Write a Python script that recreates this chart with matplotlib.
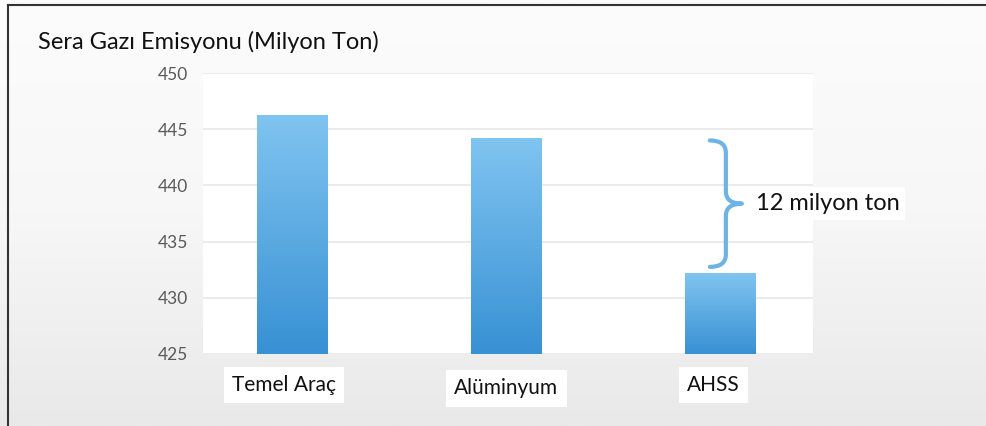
import numpy as np
import matplotlib.pyplot as plt
from matplotlib.path import Path
from matplotlib.patches import PathPatch
from matplotlib.lines import Line2D
from matplotlib.colors import LinearSegmentedColormap
import matplotlib.transforms as mtransforms

categories = ['Temel Araç', 'Alüminyum', 'AHSS']
emissions = [446.3, 444.2, 432.2]
y_ticks = [425, 430, 435, 440, 445, 450]
title = 'Sera Gazı Emisyonu (Milyon Ton)'
gap_label = '12 milyon ton'

plt.rcParams['font.family'] = ['Lato', 'DejaVu Sans']

W, H = 987, 426
fig = plt.figure(figsize=(W / 100, H / 100), dpi=100)

# arka plan (açık gri degrade)
bg = fig.add_axes([0, 0, 1, 1], zorder=-10)
bg_cmap = LinearSegmentedColormap.from_list('bg', ['#fcfcfc', '#f7f7f7', '#e9e9e9'])
bg.imshow(np.linspace(0, 1, 200).reshape(-1, 1), aspect='auto', cmap=bg_cmap,
          extent=[0, 1, 0, 1], origin='upper')
bg.set_xlim(0, 1)
bg.set_ylim(0, 1)
bg.axis('off')

ax = fig.add_axes([203 / W, 1 - 354 / H, (813 - 203) / W, (354 - 73) / H])
ax.set_facecolor('white')

x = np.arange(len(categories))
width = 0.33
bar_cmap = LinearSegmentedColormap.from_list('bar', ['#3891d4', '#80c4f0'])
bars = ax.bar(x, emissions, width=width, color='none', edgecolor='none', zorder=3)
grad = np.linspace(1, 0, 100).reshape(-1, 1)
for xi, val, b in zip(x, emissions, bars):
    im = ax.imshow(grad, aspect='auto', cmap=bar_cmap, origin='upper',
                   extent=[xi - width / 2, xi + width / 2, y_ticks[0], val], zorder=3)
    im.set_clip_path(b)
ax.set_xlim(-0.42, 2.436)
ax.set_ylim(y_ticks[0], y_ticks[-1])

ax.set_yticks(y_ticks)
ax.set_xticks([])
ax.tick_params(axis='y', length=0, pad=11, labelcolor='#595959', labelsize=12.5)
for s in ax.spines.values():
    s.set_visible(False)
ax.grid(axis='y', color='#e8e8e8', lw=1.2, zorder=0)
ax.set_axisbelow(True)

# kategori etiketleri
trans = mtransforms.blended_transform_factory(ax.transData, ax.transAxes)
label_x = [-0.04, 0.0, -0.03]
label_y = [-0.11, -0.122, -0.11]
for xi, dx, yy, lab in zip(x, label_x, label_y, categories):
    ax.text(xi + dx, yy, lab, transform=trans, ha='center', va='center',
            fontsize=15, color='#111111',
            bbox=dict(facecolor='white', edgecolor='none', pad=6))

fig.text(38 / W, 1 - 42 / H, title, fontsize=17, color='#111111', va='center')

# süslü parantez: Alüminyum ile AHSS arasındaki fark
top = emissions[1] - 0.2
bot = emissions[2] + 0.55
mid = (top + bot) / 2
xs = x[2] + 0.028
xl = x[2] - 0.047
xp = x[2] + 0.103
r = 1.1
verts = [(xl, top), (xs, top), (xs, top - r),
         (xs, mid + r), (xs, mid), (xp, mid),
         (xs, mid), (xs, mid - r),
         (xs, bot + r), (xs, bot), (xl, bot)]
codes = [Path.MOVETO, Path.CURVE3, Path.CURVE3,
         Path.LINETO, Path.CURVE3, Path.CURVE3,
         Path.CURVE3, Path.CURVE3,
         Path.LINETO, Path.CURVE3, Path.CURVE3]
ax.add_patch(PathPatch(Path(verts, codes), facecolor='none', edgecolor='#6db3e3',
                       lw=3, capstyle='round', joinstyle='round', zorder=4))
ax.text(xp + 0.066, mid, gap_label, ha='left', va='center', fontsize=17,
        color='#111111', bbox=dict(facecolor='white', edgecolor='none', pad=4))

# çerçeve
fig.add_artist(Line2D([8 / W, 8 / W], [0, 1 - 5 / H], color='#333333', lw=1.5))
fig.add_artist(Line2D([8 / W, 1], [1 - 5 / H, 1 - 5 / H], color='#333333', lw=1.5))

fig.savefig('out.png', dpi=100)
